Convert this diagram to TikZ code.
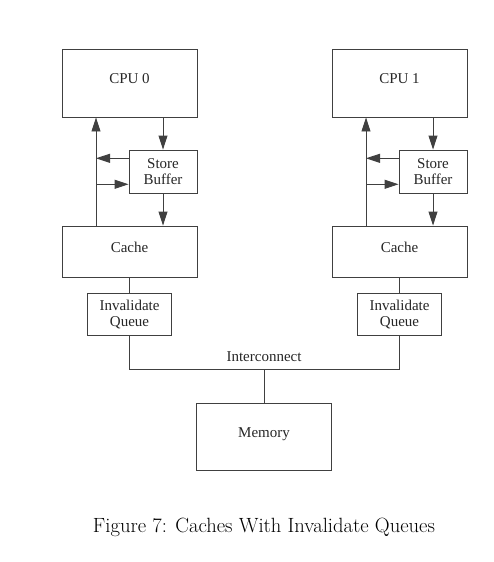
\documentclass[tikz,border=0pt]{standalone}
\usepackage{fontspec}
\setmainfont{Liberation Serif}
\newfontfamily\capfont{Latin Modern Roman}
\usetikzlibrary{arrows.meta}
\begin{document}
\begin{tikzpicture}[x=1pt,y=-1pt,
  every node/.style={font=\fontsize{15}{16.3}\selectfont, inner sep=0pt, text=black!85},
  box/.style={draw=black!75, line width=0.9pt, rectangle, align=center},
  onebox/.style={box, text height=10pt, text depth=9pt},
  wire/.style={draw=black!75, line width=0.9pt},
  arr/.style={wire, -{Triangle[length=14pt,width=9pt]}}]
\useasboundingbox (0,0) rectangle (494,562);
% CPU 0 side
\node[onebox, minimum width=135pt, minimum height=68pt] (cpu0) at (129.5,83) {CPU 0};
\node[box, minimum width=68pt, minimum height=43pt] (sb0) at (163,171.5) {Store\\Buffer};
\node[onebox, minimum width=135pt, minimum height=51pt] (cache0) at (129.5,251.5) {Cache};
\node[box, minimum width=84pt, minimum height=42pt] (iq0) at (129.5,314.5) {Invalidate\\Queue};
% CPU 1 side
\node[onebox, minimum width=135pt, minimum height=68pt] (cpu1) at (399.5,83) {CPU 1};
\node[box, minimum width=68pt, minimum height=43pt] (sb1) at (433,171.5) {Store\\Buffer};
\node[onebox, minimum width=135pt, minimum height=51pt] (cache1) at (399.5,251.5) {Cache};
\node[box, minimum width=84pt, minimum height=42pt] (iq1) at (399.5,314.5) {Invalidate\\Queue};
% Memory
\node[onebox, minimum width=135pt, minimum height=67pt] (mem) at (264,437) {Memory};
% helper coordinates
\coordinate (v0) at (96,200);
\coordinate (l0) at (96,158.3);
\coordinate (r0) at (96,184.3);
\coordinate (v1) at (366,200);
\coordinate (l1) at (366,158.3);
\coordinate (r1) at (366,184.3);
\coordinate (bus) at (264,369.5);
% CPU 0 connectors
\draw[arr] (v0 |- cache0.north) -- (v0 |- cpu0.south);
\draw[arr] (cpu0.south -| sb0.north) -- (sb0.north);
\draw[arr] (sb0.south) -- (sb0.south |- cache0.north);
\draw[arr] (l0 -| sb0.west) -- (l0);
\draw[arr] (r0) -- (r0 -| sb0.west);
\draw[wire] (cache0.south) -- (iq0.north);
% CPU 1 connectors
\draw[arr] (v1 |- cache1.north) -- (v1 |- cpu1.south);
\draw[arr] (cpu1.south -| sb1.north) -- (sb1.north);
\draw[arr] (sb1.south) -- (sb1.south |- cache1.north);
\draw[arr] (l1 -| sb1.west) -- (l1);
\draw[arr] (r1) -- (r1 -| sb1.west);
\draw[wire] (cache1.south) -- (iq1.north);
% Interconnect
\draw[wire] (iq0.south) -- (iq0.south |- bus) -- (iq1.south |- bus) -- (iq1.south);
\draw[wire] (bus) -- (mem.north);
\node (ic) at (264,356.5) {Interconnect};
% caption
\node[font=\capfont\fontsize{20.6}{24}\selectfont, anchor=base, text=black] (cap) at (264,532) {Figure 7: Caches With Invalidate Queues};
\end{tikzpicture}
\end{document}
